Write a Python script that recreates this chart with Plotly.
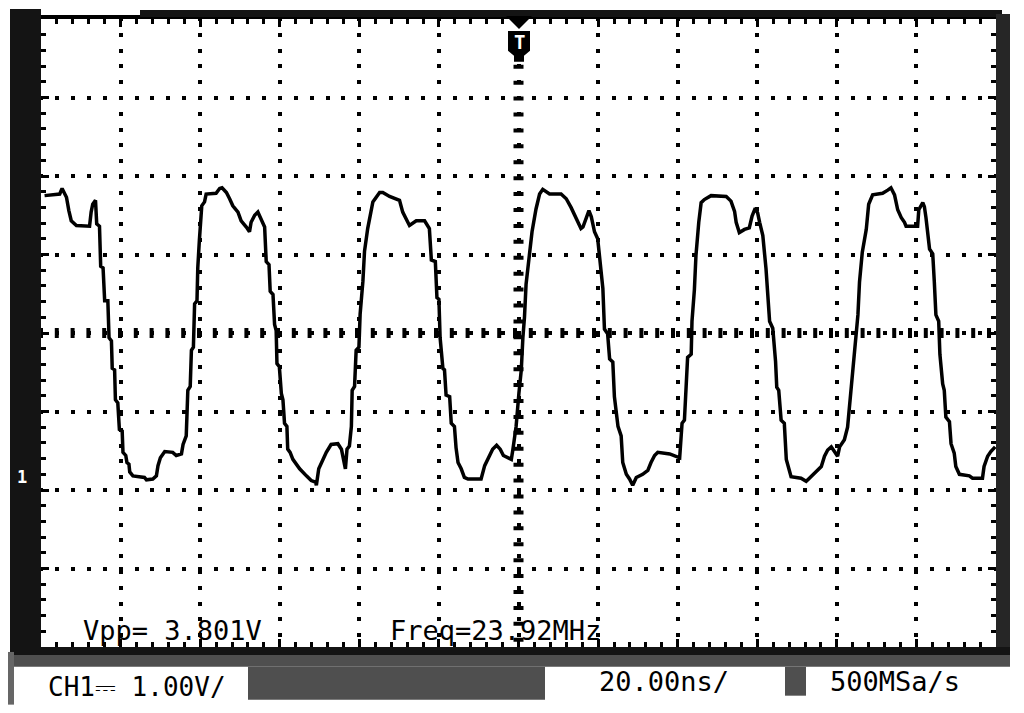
import plotly.graph_objects as go

# CH1 trace: time in ns (0 = trigger), level in volts (0 = centre line)
t_ns = [
    -119.1, -115.3, -114.7, -113.6, -113.0, -112.4, -111.1, -107.8, -107.4, -107.0,
    -106.3, -106.0, -105.3, -105.0, -104.4, -104.0, -103.2, -102.9, -102.3, -102.1,
    -101.5, -101.3, -100.7, -100.3, -99.6, -99.4, -98.7, -98.4, -97.9, -97.7,
    -96.9, -94.0, -93.5, -91.9, -91.0, -90.6, -90.0, -88.9, -86.9, -86.0,
    -84.7, -84.3, -83.5, -83.1, -82.5, -82.2, -81.7, -81.4, -80.8, -80.6,
    -80.2, -79.6, -78.9, -78.5, -76.0, -75.1, -74.5, -73.4, -72.6, -71.8,
    -70.5, -69.7, -68.4, -67.6, -67.2, -66.3, -65.5, -64.7, -63.8, -63.4,
    -62.7, -62.4, -61.7, -61.3, -60.9, -60.7, -60.1, -59.6, -59.2, -58.8,
    -58.2, -58.0, -57.4, -56.7, -55.9, -55.0, -53.3, -52.1, -51.0, -50.8,
    -50.2, -49.2, -48.3, -47.1, -45.4, -44.5, -44.0, -43.5, -43.1, -42.5,
    -42.0, -41.8, -41.2, -40.8, -40.1, -39.8, -39.1, -38.7, -37.9, -36.6,
    -34.9, -34.1, -32.4, -29.9, -29.1, -27.8, -27.4, -25.7, -23.6, -22.4,
    -21.9, -20.9, -20.5, -20.0, -19.7, -19.0, -18.6, -18.2, -17.3, -16.9,
    -16.1, -15.7, -15.2, -14.4, -13.6, -12.7, -9.4, -8.5, -7.3, -6.5,
    -5.5, -4.6, -3.8, -1.8, -1.4, -0.6, 0.1, 0.7, 1.1, 1.5,
    1.9, 2.8, 3.4, 4.4, 5.3, 6.1, 7.8, 10.7, 12.0, 13.2,
    14.5, 15.7, 16.2, 17.0, 17.7, 18.3, 19.1, 19.9, 20.4, 21.2,
    21.6, 22.4, 22.9, 23.7, 24.1, 24.5, 25.0, 25.8, 26.2, 27.1,
    27.9, 28.7, 29.6, 31.2, 32.5, 33.3, 34.2, 35.0, 38.0, 40.5,
    41.1, 41.7, 42.1, 42.5, 43.4, 43.6, 44.2, 44.6, 45.3, 45.9,
    46.7, 48.4, 52.2, 53.4, 54.3, 54.7, 55.5, 56.8, 58.0, 58.7,
    59.5, 60.1, 60.6, 61.4, 62.2, 63.1, 63.9, 64.6, 64.9, 65.4,
    66.0, 66.8, 67.3, 68.1, 68.5, 71.0, 72.3, 73.1, 74.8, 76.1,
    76.9, 77.7, 78.6, 79.4, 80.2, 80.7, 81.9, 82.7, 83.6, 84.4,
    85.3, 85.7, 86.4, 87.4, 88.0, 89.0, 91.5, 92.8, 93.6, 94.5,
    95.3, 96.2, 97.0, 97.4, 100.3, 100.6, 101.6, 102.0, 102.4, 103.3,
    104.1, 104.5, 104.9, 105.6, 105.9, 106.6, 107.0, 107.4, 108.3, 108.7,
    109.5, 109.9, 110.8, 113.3, 114.1, 116.6, 117.0, 117.9, 118.7, 119.8,
]
volts = [
    1.75, 1.77, 1.84, 1.73, 1.56, 1.43, 1.37, 1.36, 1.54, 1.64,
    1.69, 1.39, 1.36, 0.85, 0.83, 0.41, 0.41, -0.06, -0.10, -0.45,
    -0.47, -0.85, -0.89, -1.23, -1.25, -1.52, -1.56, -1.65, -1.67, -1.77,
    -1.82, -1.84, -1.87, -1.86, -1.82, -1.69, -1.59, -1.51, -1.52, -1.56,
    -1.54, -1.42, -1.31, -0.73, -0.68, -0.22, -0.18, 0.37, 0.41, 0.83,
    1.18, 1.62, 1.67, 1.77, 1.78, 1.84, 1.85, 1.79, 1.71, 1.62,
    1.54, 1.43, 1.35, 1.29, 1.41, 1.50, 1.54, 1.46, 1.35, 0.91,
    0.87, 0.53, 0.49, 0.11, 0.03, -0.39, -0.43, -0.77, -0.85, -1.15,
    -1.19, -1.48, -1.52, -1.61, -1.67, -1.73, -1.82, -1.88, -1.90, -1.94,
    -1.73, -1.61, -1.52, -1.42, -1.41, -1.48, -1.61, -1.73, -1.48, -1.44,
    -1.19, -0.73, -0.68, -0.22, -0.18, 0.24, 0.66, 1.04, 1.33, 1.67,
    1.79, 1.79, 1.74, 1.69, 1.54, 1.39, 1.37, 1.43, 1.43, 1.33,
    0.93, 0.91, 0.45, 0.43, -0.06, -0.45, -0.47, -0.79, -0.81, -1.15,
    -1.19, -1.46, -1.65, -1.73, -1.84, -1.86, -1.86, -1.69, -1.56, -1.48,
    -1.43, -1.48, -1.56, -1.61, -1.48, -1.19, -0.77, -0.47, -0.06, 0.20,
    0.62, 0.99, 1.29, 1.58, 1.77, 1.83, 1.77, 1.77, 1.71, 1.60,
    1.46, 1.33, 1.35, 1.46, 1.56, 1.48, 1.29, 1.20, 0.99, 0.57,
    0.05, -0.01, -0.33, -0.37, -0.81, -0.98, -1.19, -1.31, -1.65, -1.80,
    -1.86, -1.94, -1.84, -1.80, -1.75, -1.65, -1.56, -1.52, -1.54, -1.59,
    -1.15, -1.11, -0.69, -0.31, -0.27, 0.15, 0.55, 0.99, 1.41, 1.66,
    1.70, 1.75, 1.74, 1.68, 1.55, 1.41, 1.28, 1.32, 1.34, 1.49,
    1.59, 1.53, 1.41, 1.24, 0.82, 0.15, 0.06, -0.36, -0.69, -0.73,
    -1.11, -1.15, -1.61, -1.74, -1.83, -1.85, -1.89, -1.85, -1.76, -1.70,
    -1.57, -1.49, -1.45, -1.51, -1.57, -1.45, -1.36, -1.20, -0.69, -0.31,
    0.23, 0.65, 1.03, 1.32, 1.64, 1.76, 1.78, 1.82, 1.85, 1.76,
    1.57, 1.47, 1.41, 1.36, 1.36, 1.57, 1.66, 1.61, 1.47, 1.07,
    1.01, 0.65, 0.23, 0.15, -0.27, -0.65, -0.73, -1.07, -1.13, -1.41,
    -1.53, -1.70, -1.80, -1.82, -1.85, -1.85, -1.70, -1.57, -1.51, -1.45,
]

vpp_label = "Vpp= 3.801V"
freq_label = "Freq=23.92MHz"
ch_label = "CH1⎓ 1.00V/"
time_label = "20.00ns/"
rate_label = "500MSa/s"
channel_mark = "1"
trigger_mark = "T"

ns_per_div = 20
v_per_div = 1.0
x_divs, y_divs = 12, 8

# screen geometry in window pixels; the page body adds an 8px margin
PAGE = 8
SW, SH = 1024, 713
L, R, T, B = 41, 996, 15, 647
W, H = SW - 2 * PAGE, SH - 2 * PAGE


def px(x):
    return (x - L) / (R - L)


def py(y):
    return (B - y) / (B - T)


def block(x0, y0, x1, y1, color="#141414"):
    return dict(type="rect", xref="paper", yref="paper",
                x0=px(x0), x1=px(x1), y0=py(y0), y1=py(y1),
                fillcolor=color, line_width=0, layer="above")


def path(points, color="black"):
    d = "M" + " L".join(f"{px(a):.5f},{py(b):.5f}" for a, b in points) + " Z"
    return dict(type="path", xref="paper", yref="paper", path=d,
                fillcolor=color, line_width=0, layer="above")


# dots every 1/5 division, centred on the grid intersections
sx = (R - L) / (x_divs * 5)
sy = (B - T) / (y_divs * 5)
dot_x = f"2px,{sx - 4:.3f}px,2px,0px"
dot_y = f"2px,{sy - 4:.3f}px,2px,0px"

xmax = ns_per_div * x_divs / 2
ymax = v_per_div * y_divs / 2

fig = go.Figure()
fig.add_trace(go.Scatter(x=t_ns, y=volts, mode="lines",
                         line=dict(color="black", width=3.5), showlegend=False))

axis_common = dict(showticklabels=False, zeroline=False, showline=True,
                   linecolor="black", linewidth=4, mirror="allticks",
                   ticks="inside", tickcolor="black", tickwidth=3, ticklen=8,
                   gridcolor="black", gridwidth=4, fixedrange=True)

fig.update_xaxes(range=[-xmax, xmax], dtick=ns_per_div, griddash=dot_y,
                 minor=dict(dtick=ns_per_div / 5, ticks="inside", ticklen=5,
                            tickwidth=3, tickcolor="black", showgrid=False),
                 **axis_common)
fig.update_yaxes(range=[-ymax, ymax], dtick=v_per_div, griddash=dot_x,
                 minor=dict(dtick=v_per_div / 5, ticks="inside", ticklen=5,
                            tickwidth=3, tickcolor="black", showgrid=False),
                 **axis_common)

hatch = "#4f4f4f"
shapes = [
    # centre axes drawn as heavy dashes
    dict(type="line", xref="x", yref="y", x0=-xmax, x1=xmax, y0=0, y1=0,
         line=dict(color="black", width=10, dash=dot_y), layer="below"),
    dict(type="line", xref="x", yref="y", x0=0, x1=0, y0=ymax, y1=-ymax,
         line=dict(color="black", width=10, dash=dot_x), layer="below"),
    # bezel around the screen
    block(10, 5, 41, 652),
    block(140, 6, 1002, 13),
    block(996, 10, 1010, 660, "#262626"),
    block(10, 647, 1010, 655),
    block(10, 655, 1010, 667, hatch),
    block(8, 652, 14, 705, "#666666"),
    block(248, 667, 545, 700, hatch),
    block(785, 667, 806, 696, hatch),
    # trigger marker
    path([(506, 12), (532, 12), (519, 25)]),
    path([(508, 27), (530, 27), (530, 47), (524, 52), (524, 58),
          (514, 58), (514, 52), (508, 47)]),
]

mono = "DejaVu Sans Mono"
ann = [
    dict(text=vpp_label, x=px(172), y=py(630), size=27, color="black"),
    dict(text=freq_label, x=px(495), y=py(630), size=27, color="black"),
    dict(text=ch_label, x=px(137), y=py(687), size=26, color="black"),
    dict(text=time_label, x=px(664), y=py(682), size=27, color="black"),
    dict(text=rate_label, x=px(895), y=py(682), size=27, color="black"),
    dict(text="<b>" + channel_mark + "</b>", x=px(22), y=py(476), size=17, color="white"),
    dict(text="<b>" + trigger_mark + "</b>", x=px(519), y=py(38), size=19, color="white"),
]
annotations = [
    dict(text=a["text"], x=a["x"], y=a["y"], xref="paper", yref="paper",
         showarrow=False, xanchor="center", yanchor="middle",
         font=dict(family=mono, size=a["size"], color=a["color"]))
    for a in ann
]

fig.update_layout(
    width=W, height=H,
    margin=dict(l=L - PAGE, r=(PAGE + W) - R, t=T - PAGE, b=(PAGE + H) - B),
    paper_bgcolor="white", plot_bgcolor="white",
    shapes=shapes, annotations=annotations,
)

fig.write_html("out.html")
